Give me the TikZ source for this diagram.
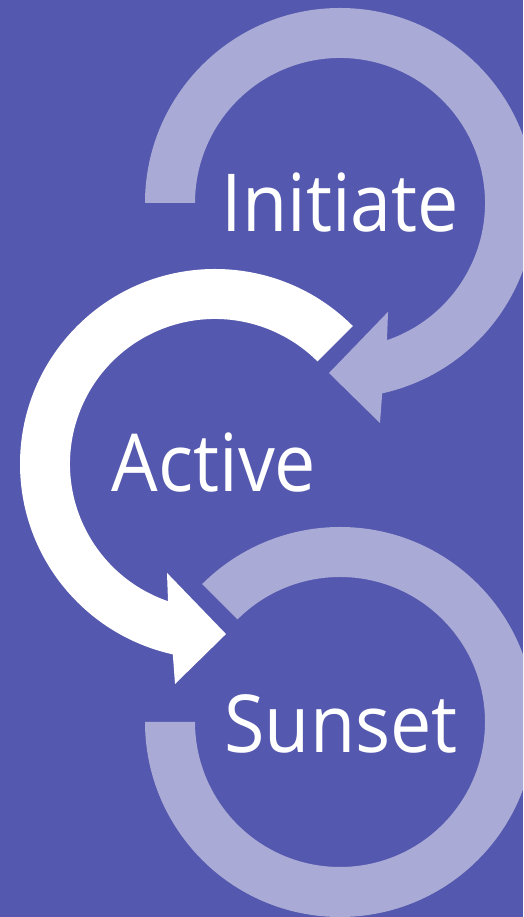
\documentclass[tikz,border=0pt]{standalone}
\usepackage{fontspec}
\setmainfont[FakeStretch=0.92]{Open Sans}
\definecolor{bgc}{RGB}{84,88,174}
\definecolor{lightarc}{RGB}{169,170,214}
\tikzset{
  lightarrow/.style={fill=lightarc, draw=none},
  whitearrow/.style={fill=white, draw=none},
  label/.style={text=white, inner sep=0pt, anchor=base, font=\fontsize{80}{96}\selectfont}
}
\begin{document}
\begin{tikzpicture}[x=1pt,y=1pt]
\useasboundingbox (0,0) rectangle (523,917);
\clip (0,0) rectangle (523,917);
\fill[bgc] (0,0) rectangle (523,917);
\coordinate (ci) at (340,714);
\coordinate (ca) at (215,453);
\coordinate (cs) at (340,195);
% Initiate arrow (clockwise)
\fill[lightarrow, shift={(ci)}] (180:195pt) arc[start angle=180, end angle=-77.5, radius=195pt]
  -- (-79.7:223.6pt) -- (-93.7:170.4pt) -- (-66.2:119pt) -- (-71.1:145pt)
  arc[start angle=-71.1, end angle=180, radius=145pt] -- cycle;
% Sunset arc
\fill[lightarrow, shift={(cs)}] (180:195pt) arc[start angle=180, end angle=495, radius=195pt]
  -- (495:145pt) arc[start angle=495, end angle=180, radius=145pt] -- cycle;
% Active arrow (counter-clockwise)
\fill[whitearrow, shift={(ca)}] (45:195pt) arc[start angle=45, end angle=257.5, radius=195pt]
  -- (259.7:223.6pt) -- (273.7:170.4pt) -- (246.2:119pt) -- (251.1:145pt)
  arc[start angle=251.1, end angle=45, radius=145pt] -- cycle;
\node[label] (initiate) at (340.5,685) {Initiate};
\node[label] (active) at (214,425) {Active};
\node[label] (sunset) at (341,164) {Sunset};
\end{tikzpicture}
\end{document}
